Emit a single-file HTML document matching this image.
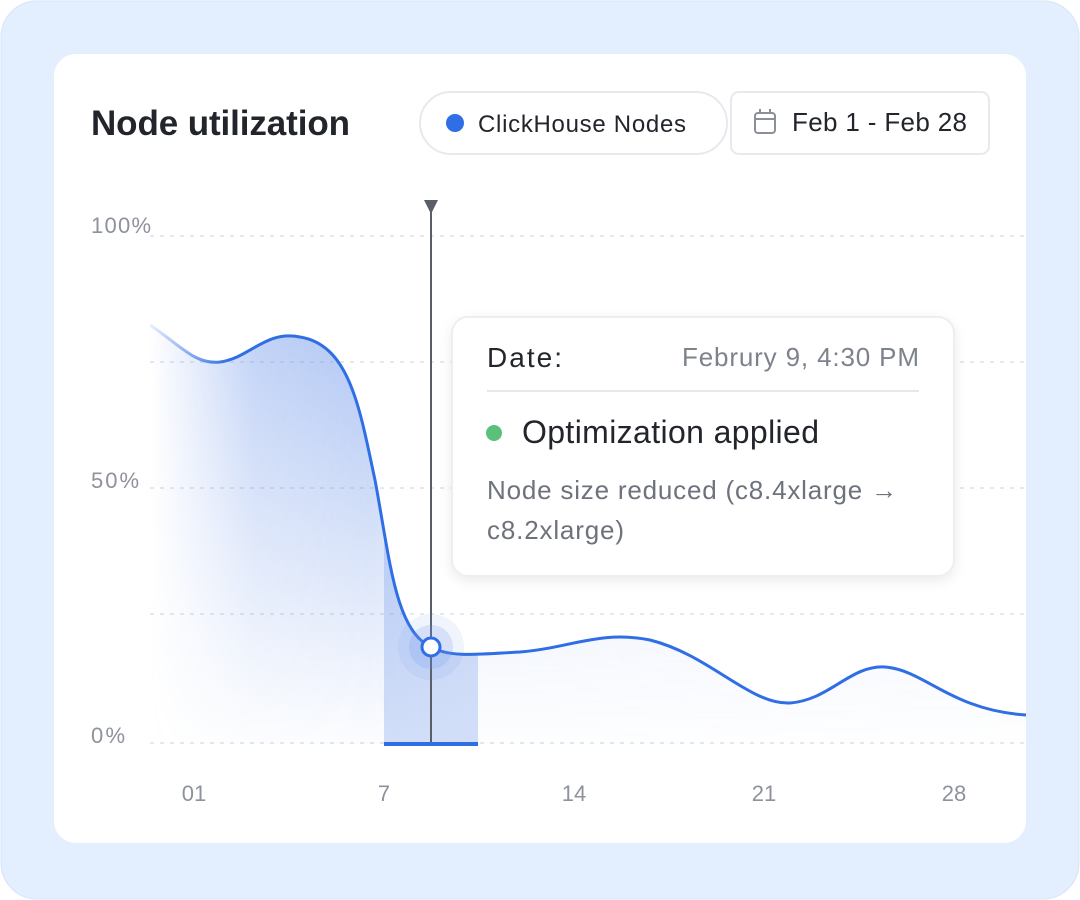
<!DOCTYPE html>
<html><head><style>
html,body{margin:0;padding:0;width:1080px;height:900px;overflow:hidden;background:#fff;font-family:"Liberation Sans",sans-serif;}
</style></head><body>
<svg width="1080" height="900" viewBox="0 0 1080 900" xmlns="http://www.w3.org/2000/svg" font-family="Liberation Sans, sans-serif">
<defs>
<linearGradient id="vg" x1="0" y1="0" x2="0" y2="1">
<stop offset="0" stop-color="#6f97ea" stop-opacity="0.55"/>
<stop offset="1" stop-color="#6f97ea" stop-opacity="0.02"/>
</linearGradient>
<linearGradient id="hg" x1="150" y1="0" x2="1026" y2="0" gradientUnits="userSpaceOnUse">
<stop offset="0" stop-color="#fff" stop-opacity="0"/>
<stop offset="0.12" stop-color="#fff" stop-opacity="0.8"/>
<stop offset="0.25" stop-color="#fff" stop-opacity="1"/>
<stop offset="0.38" stop-color="#fff" stop-opacity="0.5"/>
<stop offset="1" stop-color="#fff" stop-opacity="0.3"/>
</linearGradient>
<mask id="m"><rect x="0" y="0" width="1080" height="900" fill="url(#hg)"/></mask>
<clipPath id="ac"><path d="M150,325 C180,345 195,365 220,362 C250,358 265,330 300,337 C350,345 360,410 375,480 C390,560 395,630 431,647 C450,658 480,654 520,652 C570,648 600,630 650,640 C710,655 750,705 790,703 C830,700 850,665 885,667 C925,670 950,710 1026,715 L1026,745 L150,745 Z"/></clipPath>
<linearGradient id="lg" x1="150" y1="0" x2="230" y2="0" gradientUnits="userSpaceOnUse">
<stop offset="0" stop-color="#2f6ee5" stop-opacity="0.1"/>
<stop offset="1" stop-color="#2f6ee5" stop-opacity="1"/>
</linearGradient>
<filter id="sh" x="-10%" y="-10%" width="120%" height="130%"><feDropShadow dx="0" dy="4" stdDeviation="6" flood-color="#000" flood-opacity="0.08"/></filter>
</defs>
<rect x="1" y="1" width="1078" height="898" rx="36" fill="#e3efff" stroke="#d6e4f7"/>
<rect x="54" y="54" width="972" height="789" rx="22" fill="#fff"/>
<text x="91" y="135" font-size="35" font-weight="bold" fill="#22252b" textLength="259">Node utilization</text>
<rect x="420" y="92" width="307" height="62" rx="31" fill="#fff" stroke="#e7e9ee" stroke-width="2"/>
<circle cx="455" cy="123" r="9" fill="#2f6ee5"/>
<text x="478" y="132" font-size="24" fill="#22252b" textLength="208">ClickHouse Nodes</text>
<rect x="731" y="92" width="258" height="62" rx="8" fill="#fff" stroke="#e7e9ee" stroke-width="2"/>
<rect x="755" y="113" width="20" height="20" rx="3" fill="none" stroke="#8a8f99" stroke-width="2"/>
<line x1="755" y1="119" x2="775" y2="119" stroke="#8a8f99" stroke-width="2"/>
<line x1="760" y1="109" x2="760" y2="114" stroke="#8a8f99" stroke-width="2"/>
<line x1="770" y1="109" x2="770" y2="114" stroke="#8a8f99" stroke-width="2"/>
<text x="792" y="131" font-size="26" fill="#22252b" textLength="175">Feb 1 - Feb 28</text>
<g stroke="#e6e8ec" stroke-width="2" stroke-dasharray="4 6">
<line x1="150" y1="236" x2="1026" y2="236"/>
<line x1="150" y1="362" x2="1026" y2="362"/>
<line x1="150" y1="488" x2="1026" y2="488"/>
<line x1="150" y1="614" x2="1026" y2="614"/>
<line x1="150" y1="743" x2="1026" y2="743"/>
</g>
<g font-size="22" fill="#8d929b">
<text x="91" y="233" textLength="60">100%</text>
<text x="91" y="488" textLength="48">50%</text>
<text x="91" y="743" textLength="34">0%</text>
<text x="194" y="801" text-anchor="middle">01</text>
<text x="384" y="801" text-anchor="middle">7</text>
<text x="574" y="801" text-anchor="middle">14</text>
<text x="764" y="801" text-anchor="middle">21</text>
<text x="954" y="801" text-anchor="middle">28</text>
</g>
<path d="M150,325 C180,345 195,365 220,362 C250,358 265,330 300,337 C350,345 360,410 375,480 C390,560 395,630 431,647 C450,658 480,654 520,652 C570,648 600,630 650,640 C710,655 750,705 790,703 C830,700 850,665 885,667 C925,670 950,710 1026,715 L1026,745 L150,745 Z" fill="url(#vg)" mask="url(#m)"/>
<rect x="384" y="300" width="94" height="445" fill="#6f97ea" opacity="0.3" clip-path="url(#ac)"/>
<rect x="384" y="742" width="94" height="4" fill="#2f6ee5"/>
<path d="M150,325 C180,345 195,365 220,362 C250,358 265,330 300,337 C350,345 360,410 375,480 C390,560 395,630 431,647 C450,658 480,654 520,652 C570,648 600,630 650,640 C710,655 750,705 790,703 C830,700 850,665 885,667 C925,670 950,710 1026,715" fill="none" stroke="url(#lg)" stroke-width="3"/>
<line x1="431" y1="205" x2="431" y2="742" stroke="#5a5e68" stroke-width="2"/>
<path d="M424,200 L438,200 L431,214 Z" fill="#5a5e68"/>
<circle cx="431" cy="647" r="33" fill="#6f97ea" opacity="0.1"/>
<circle cx="431" cy="647" r="22" fill="#6f97ea" opacity="0.2"/>
<circle cx="431" cy="647" r="9" fill="#fff" stroke="#2f6ee5" stroke-width="3"/>
<rect x="452" y="317" width="502" height="259" rx="16" fill="#fff" stroke="#eceef2" stroke-width="2" filter="url(#sh)"/>
<text x="487" y="367" font-size="28" fill="#22252b" textLength="75">Date:</text>
<text x="682" y="366" font-size="26" fill="#7d828c" textLength="237">Februry 9, 4:30 PM</text>
<line x1="487" y1="391" x2="919" y2="391" stroke="#e6e8ec" stroke-width="2"/>
<circle cx="494" cy="433" r="8" fill="#5bc17a"/>
<text x="522" y="443" font-size="32" fill="#22252b" textLength="297">Optimization applied</text>
<text x="487" y="499" font-size="26" fill="#6d727c" textLength="410">Node size reduced (c8.4xlarge →</text>
<text x="487" y="539" font-size="26" fill="#6d727c" textLength="137">c8.2xlarge)</text>
</svg>
</body></html>
